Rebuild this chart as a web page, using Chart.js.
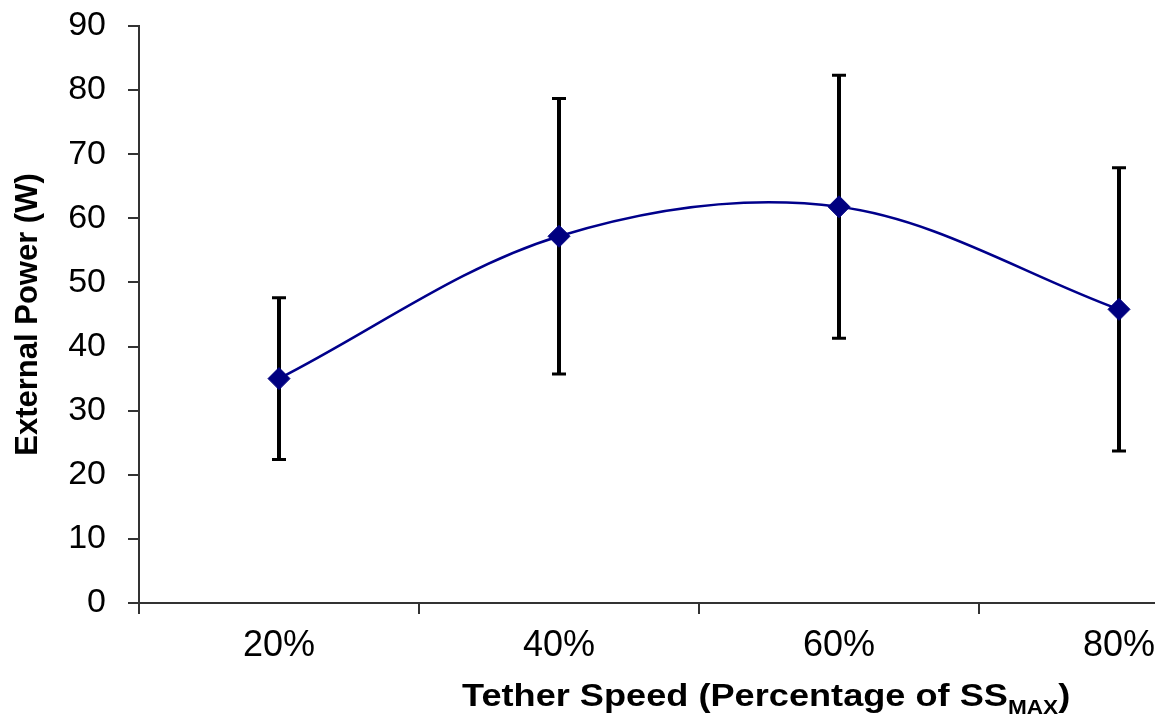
<!DOCTYPE html>
<html>
<head>
<meta charset="utf-8">
<script src="https://cdn.jsdelivr.net/npm/chart.js@4.4.1/dist/chart.umd.min.js"></script>
<style>
  html, body { margin: 0; padding: 0; background: #fff; }
  #wrap { position: absolute; left: 0; top: -13px; width: 1155px; height: 730px; overflow: hidden; }
  #xTitle {
    position: absolute; left: 462px; top: 679px; white-space: nowrap;
    font: bold 32px "Liberation Sans", Arial, sans-serif; line-height: 1; color: #000;
    transform: scaleX(1.13); transform-origin: left top;
  }
  #xTitle .sub { font-size: 20px; position: relative; top: 8px; }
</style>
</head>
<body>
<div id="wrap">
  <canvas id="powerChart" width="1280" height="730"></canvas>
</div>
<div id="xTitle">Tether Speed (Percentage of SS<span class="sub">MAX</span>)</div>

<script>
// tether speed groups and mean external power with +/- error
const speedLabels = ['20%', '40%', '60%', '80%'];
const powerMean = [35.0, 57.2, 61.8, 45.8];
const powerErr = [12.6, 21.5, 20.5, 22.1];
const yTicks = [0, 10, 20, 30, 40, 50, 60, 70, 80, 90];

const fontFamily = '"Liberation Sans", Arial, sans-serif';

// vertical error bars with caps, drawn under the line and markers
const errorBars = {
    id: 'errorBars',
    beforeDatasetsDraw(chart) {
        const ctx = chart.ctx;
        const xs = chart.scales.x;
        const ys = chart.scales.y;
        ctx.save();
        ctx.strokeStyle = '#000';
        for (let i = 0; i < powerMean.length; i++) {
            let x = xs.getPixelForValue(i);
            let top = ys.getPixelForValue(powerMean[i] + powerErr[i]);
            let bot = ys.getPixelForValue(powerMean[i] - powerErr[i]);
            ctx.lineWidth = 4;
            ctx.beginPath();
            ctx.moveTo(x, top);
            ctx.lineTo(x, bot);
            ctx.stroke();
            ctx.lineWidth = 3;
            ctx.beginPath();
            ctx.moveTo(x - 7, top);
            ctx.lineTo(x + 7, top);
            ctx.moveTo(x - 7, bot);
            ctx.lineTo(x + 7, bot);
            ctx.stroke();
        }
        ctx.restore();
    }
};

new Chart(document.getElementById('powerChart'), {
    type: 'line',
    data: {
        labels: speedLabels,
        datasets: [{
            data: powerMean,
            borderColor: '#00008b',
            borderWidth: 2.5,
            tension: 0.34,
            fill: false,
            pointStyle: 'rectRot',
            pointRadius: 11,
            pointBackgroundColor: '#000080',
            pointBorderColor: '#000080',
            pointBorderWidth: 1
        }]
    },
    options: {
        responsive: false,
        animation: false,
        layout: { padding: { top: 0, right: 21, left: 0, bottom: 0 } },
        plugins: {
            legend: { display: false },
            tooltip: { enabled: false }
        },
        scales: {
            x: {
                offset: true,
                grid: { offset: true, drawOnChartArea: false, tickLength: 11, color: '#333', lineWidth: 2 },
                border: { color: '#333', width: 2 },
                ticks: { color: '#000', font: { family: fontFamily, size: 36 }, padding: 10 },
                afterFit(scale) { scale.height = 114; }
            },
            y: {
                min: 0,
                max: 90,
                afterBuildTicks(scale) { scale.ticks = yTicks.map(v => ({ value: v })); },
                grid: { drawOnChartArea: false, tickLength: 11, color: '#333', lineWidth: 2 },
                border: { color: '#333', width: 2 },
                ticks: { color: '#000', font: { family: fontFamily, size: 34, lineHeight: 1 }, padding: 22 },
                title: {
                    display: true,
                    text: 'External Power (W)',
                    color: '#000',
                    font: { family: fontFamily, size: 31, weight: 'bold' },
                    padding: { top: 10, bottom: 0 }
                },
                afterFit(scale) { scale.width = 139; }
            }
        }
    },
    plugins: [errorBars]
});
</script>
</body>
</html>
